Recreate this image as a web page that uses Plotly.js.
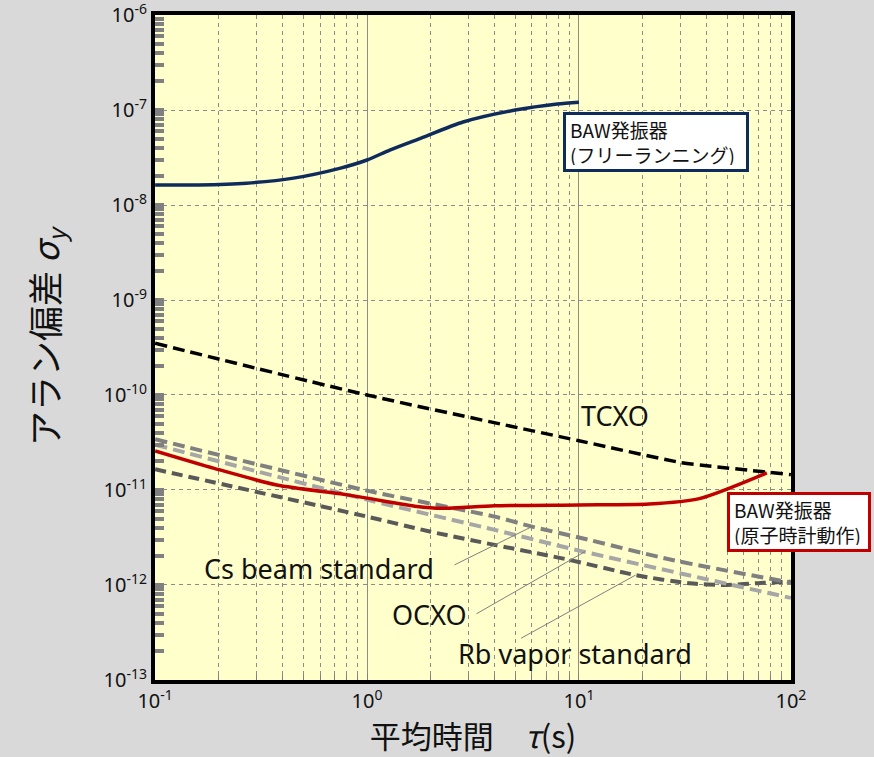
<!DOCTYPE html>
<html>
<head>
<meta charset="utf-8">
<script src="https://cdn.plot.ly/plotly-3.0.1.min.js"></script>
<style>
  html, body { margin: 0; padding: 0; background: #d9d9d9; }
  #chart { width: 874px; height: 757px; }
</style>
</head>
<body>
<div id="chart"></div>
<script>
// Allan deviation vs averaging time for several frequency references

// BAW oscillator, free running
const tauBawFree   = [0.1, 0.16, 0.27, 0.45, 0.75, 1.0, 1.28, 1.8, 2.84, 5.0, 7.9, 10];
const sigmaBawFree = [1.63e-8, 1.63e-8, 1.70e-8, 1.92e-8, 2.45e-8, 2.98e-8, 3.79e-8, 5.07e-8, 7.48e-8, 1.0e-7, 1.16e-7, 1.21e-7];

// TCXO
const tauTcxo   = [0.1, 1, 10, 30, 40, 100];
const sigmaTcxo = [3.5e-10, 1.0e-10, 3.3e-11, 1.95e-11, 1.8e-11, 1.45e-11];

// BAW oscillator, atomic clock operation
const tauBawAtomic   = [0.1, 0.19, 0.375, 0.75, 1.0, 1.72, 2.26, 4.0, 10, 21.4, 37, 77];
const sigmaBawAtomic = [2.58e-11, 1.69e-11, 1.13e-11, 9.1e-12, 8.2e-12, 6.7e-12, 6.4e-12, 6.8e-12, 6.95e-12, 7.1e-12, 8.1e-12, 1.51e-11];

// Cs beam standard
const tauCs   = [0.1, 1, 4, 6, 10, 27.6, 100];
const sigmaCs = [3.42e-11, 9.84e-12, 5.24e-12, 4.11e-12, 3.16e-12, 1.83e-12, 1.06e-12];

// OCXO
const tauOcxo   = [0.1, 1, 4, 10, 100];
const sigmaOcxo = [3.0e-11, 7.9e-12, 3.8e-12, 2.3e-12, 7.3e-13];

// Rb vapor standard
const tauRb   = [0.1, 1, 2, 4, 9.06, 18.5, 33.2, 50, 72, 100];
const sigmaRb = [1.65e-11, 5.24e-12, 3.63e-12, 2.64e-12, 1.83e-12, 1.27e-12, 1.04e-12, 1.0e-12, 1.05e-12, 1.08e-12];

// Axis ticks
const xTickVals = [0.1, 1, 10, 100];
const xTickText = ['10<sup>-1</sup>', '10<sup>0</sup>', '10<sup>1</sup>', '10<sup>2</sup>'];
const yTickVals = [1e-13, 1e-12, 1e-11, 1e-10, 1e-9, 1e-8, 1e-7, 1e-6];
const yTickText = ['10<sup>-13</sup>', '10<sup>-12</sup>', '10<sup>-11</sup>', '10<sup>-10</sup>',
                   '10<sup>-9</sup>', '10<sup>-8</sup>', '10<sup>-7</sup>', '10<sup>-6</sup>'];

// Text labels
const labelBawFree   = 'BAW発振器<br>(フリーランニング)';
const labelBawAtomic = 'BAW発振器<br>(原子時計動作)';
const labelTcxo = 'TCXO';
const labelCs   = 'Cs beam standard';
const labelOcxo = 'OCXO';
const labelRb   = 'Rb vapor standard';

// minor ticks 2..9 within each decade
function decadeMinors(kFrom, kTo) {
  const out = [];
  for (let k = kFrom; k < kTo; k++) {
    for (let m = 2; m <= 9; m++) out.push(m * Math.pow(10, k));
  }
  return out;
}

const jpFont = '"Noto Sans CJK JP", "Noto Sans", sans-serif';
const latinFont = '"Noto Sans", "Noto Sans CJK JP", sans-serif';
const tickFont = { family: '"Noto Sans", sans-serif', size: 20, color: '#111' };

function line(x, y, color, width, dash) {
  return {
    x: x, y: y, type: 'scatter', mode: 'lines',
    line: { color: color, width: width, dash: dash, shape: 'spline', smoothing: 0.7 },
    hoverinfo: 'skip', showlegend: false
  };
}

const traces = [
  line(tauRb, sigmaRb, '#595959', 4, '11px,6px'),
  line(tauOcxo, sigmaOcxo, '#a6a6a6', 4, '12px,6px'),
  line(tauCs, sigmaCs, '#808080', 4, '12px,6px'),
  line(tauTcxo, sigmaTcxo, '#000000', 3.5, '12px,6px'),
  line(tauBawAtomic, sigmaBawAtomic, '#c00000', 3.5, 'solid'),
  line(tauBawFree, sigmaBawFree, '#0f2b5b', 3.5, 'solid')
];

// plot area geometry used for placing free text
const plotL = 155, plotW = 636, plotT = 15, plotH = 665;
const px = v => (v - plotL) / plotW;
const py = v => 1 - (v - plotT) / plotH;

function textLabel(text, cx, cy) {
  return {
    text: text, xref: 'paper', yref: 'paper', x: px(cx), y: py(cy),
    xanchor: 'center', yanchor: 'middle', showarrow: false,
    font: { family: latinFont, size: 27, color: '#111' }
  };
}

function leader(xVal, yVal, dx, dy) {
  return {
    text: '', xref: 'x', yref: 'y', x: Math.log10(xVal), y: Math.log10(yVal),
    ax: dx, ay: dy, showarrow: true, arrowhead: 0, arrowwidth: 1,
    arrowcolor: '#7f7f7f', standoff: 0, startstandoff: 0
  };
}

function boxLabel(text, left, top, color, w, h) {
  return {
    text: text, xref: 'paper', yref: 'paper', x: px(left), y: py(top),
    xanchor: 'left', yanchor: 'top', align: 'left', valign: 'middle',
    width: w, height: h, showarrow: false,
    bgcolor: '#ffffff', bordercolor: color, borderwidth: 3, borderpad: 4,
    font: { family: jpFont, size: 19, color: '#111' }
  };
}

const layout = {
  width: 874, height: 757,
  margin: { l: 155, r: 83, t: 15, b: 77, pad: 0 },
  paper_bgcolor: '#d9d9d9',
  plot_bgcolor: '#ffffcc',
  showlegend: false,
  xaxis: {
    type: 'log', range: [-1.0005, 2.0005],
    tickmode: 'array', tickvals: xTickVals, ticktext: xTickText,
    tickfont: tickFont, ticklabeloverflow: 'allow',
    ticks: 'inside', ticklen: 6, tickwidth: 1, tickcolor: '#808080',
    showgrid: true, gridcolor: '#8c8c8c', gridwidth: 1, griddash: 'solid',
    minor: {
      tickmode: 'array', tickvals: decadeMinors(-1, 2),
      ticks: 'inside', ticklen: 5, tickwidth: 1, tickcolor: '#808080',
      showgrid: true, gridcolor: '#8c8c8c', gridwidth: 1, griddash: '4px,4px'
    },
    showline: true, linecolor: '#000000', linewidth: 4, mirror: true,
    zeroline: false,
    title: { text: '平均時間　<i>τ</i>(s)', font: { family: jpFont, size: 31, color: '#111' }, standoff: 4 },
    automargin: false
  },
  yaxis: {
    type: 'log', range: [-13.001, -5.999],
    tickmode: 'array', tickvals: yTickVals, ticktext: yTickText,
    tickfont: tickFont, ticklabeloverflow: 'allow',
    ticks: 'inside', ticklen: 9, tickwidth: 4, tickcolor: '#808080',
    showgrid: true, gridcolor: '#8c8c8c', gridwidth: 1, griddash: '4px,4px',
    minor: {
      tickmode: 'array', tickvals: decadeMinors(-13, -6),
      ticks: 'inside', ticklen: 9, tickwidth: 4, tickcolor: '#808080',
      showgrid: false
    },
    showline: true, linecolor: '#000000', linewidth: 4, mirror: true,
    zeroline: false,
    automargin: false
  },
  annotations: [
    {
      text: 'アラン偏差 <i>σ<sub>y</sub></i>', xref: 'paper', yref: 'paper',
      x: px(45), y: py(336), xanchor: 'center', yanchor: 'middle',
      textangle: -90, showarrow: false,
      font: { family: jpFont, size: 35, color: '#111' }
    },
    textLabel(labelTcxo, 615, 416),
    textLabel(labelCs, 319, 568),
    textLabel(labelOcxo, 429, 614),
    textLabel(labelRb, 575, 653),
    leader(6.0, 4.11e-12, -79, 39),
    leader(10.67, 2.24e-12, -110, 63),
    leader(18.5, 1.27e-12, -116, 64),
    boxLabel(labelBawFree, 563, 112, '#0f2b5b', 172, 46),
    boxLabel(labelBawAtomic, 727, 492, '#c00000', 130, 46)
  ]
};

Plotly.newPlot('chart', traces, layout, { displayModeBar: false, staticPlot: true });
</script>
</body>
</html>
